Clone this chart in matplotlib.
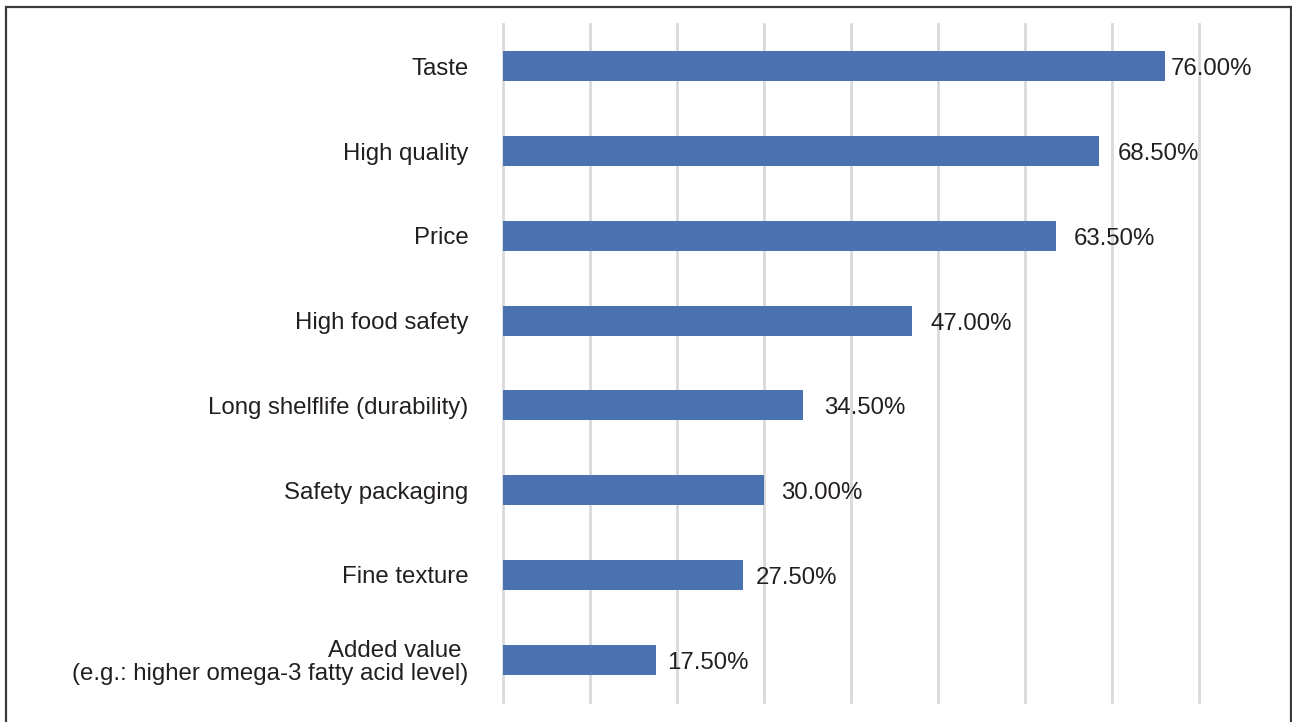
import matplotlib.pyplot as plt
from matplotlib.patches import Rectangle
from matplotlib import transforms

plt.rcParams['font.family'] = ['Liberation Sans', 'DejaVu Sans']

categories = [
    'Taste',
    'High quality',
    'Price',
    'High food safety',
    'Long shelflife (durability)',
    'Safety packaging',
    'Fine texture',
    'Added value \n(e.g.: higher omega-3 fatty acid level)',
]
shares = [76.0, 68.5, 63.5, 47.0, 34.5, 30.0, 27.5, 17.5]

# gap between bar end and its label, in points
label_gap = [4.3, 13, 13, 13, 15, 12, 9.5, 8.5]

bar_color = '#4a72b0'
text_color = '#231f20'
grid_color = '#d9d9d9'

fig = plt.figure(figsize=(12.92, 7.22), dpi=100)
ax = fig.add_axes([503.3 / 1292, 20 / 722, 696 / 1292, 678 / 722])

ypos = list(range(len(categories)))
ax.barh(ypos, shares, height=0.354, color=bar_color, zorder=3)

ax.set_xlim(0, 80)
ax.set_ylim(len(categories) - 0.5, -0.5)
ax.set_xticks(range(0, 81, 10))
ax.xaxis.grid(True, color=grid_color, linewidth=2.0, zorder=0)
for gl in ax.get_xgridlines():
    gl.set_clip_on(False)
ax.tick_params(axis='x', length=0, labelbottom=False)
ax.tick_params(axis='y', length=0, pad=25, labelsize=17.3, labelcolor=text_color)
ax.set_yticks(ypos)
ax.set_yticklabels(categories)
for lbl in ax.get_yticklabels():
    lbl.set_linespacing(1.05)
for s in ax.spines.values():
    s.set_visible(False)

# value labels just right of each bar, a touch below centre
for y, v, g in zip(ypos, shares, label_gap):
    off = transforms.offset_copy(ax.transData, fig=fig, x=g, y=-2.2, units='points')
    ax.text(v, y, f'{v:.2f}%', transform=off, ha='left', va='center',
            fontsize=17.3, color=text_color)

# outer frame (open at the bottom edge)
fig.patches.append(Rectangle((6 / 1292, -0.02), 1285 / 1292, 1 - 6.5 / 722 + 0.02,
                             transform=fig.transFigure, fill=False,
                             edgecolor='#3c3a36', linewidth=1.6))

fig.savefig('out.png', dpi=100)
